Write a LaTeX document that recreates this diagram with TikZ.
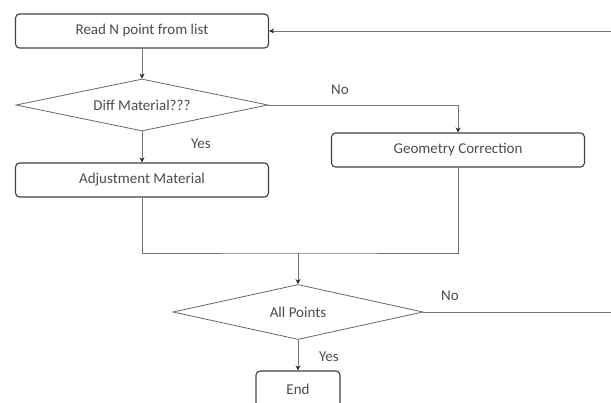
\documentclass[tikz,border=0pt]{standalone}
\usepackage{fontspec}
\setmainfont{Carlito}
\usetikzlibrary{shapes.geometric, arrows.meta}

\begin{document}
\begin{tikzpicture}[>={Stealth[length=5pt, width=5pt, black!85]}, x=1pt, y=-1pt, font=\fontsize{15}{17}\selectfont]
            \tikzset{block/.style = {draw=black!75, line width=1.1pt, rounded corners=4pt, minimum width=253pt, minimum height=34pt, text=black!70}}
            \tikzset{decision/.style = {diamond, aspect=4.8, inner sep=1pt, draw=black!60, line width=0.8pt, minimum width=252pt, minimum height=52pt, text=black!70}}
            \tikzset{link/.style = {draw=black!55, line width=0.8pt}}
            \tikzset{answer/.style = {text=black!70}}

            \useasboundingbox (0,0) rectangle (611,403);

            \node[block] (read) at (142,31) {Read N point from list};
            \node[decision] (diff) at (142,105) {Diff Material???};
            \node[block] (adjust) at (142,180) {Adjustment Material};
            \node[block] (geom) at (458,150) {Geometry Correction};
            \node[decision, minimum width=250pt, minimum height=55pt] (all) at (298,312) {All Points};
            \node[block, minimum width=84pt, minimum height=36pt] (end) at (298,389) {End};

            \coordinate (merge) at (298,253);
            \coordinate (back) at (620,312);

            \node[answer] (no1) at (340,90) {No};
            \node[answer] (yes1) at (201,144) {Yes};
            \node[answer] (no2) at (450,296) {No};
            \node[answer] (yes2) at (329,357) {Yes};

            \draw[link, ->] (read) -- (diff);
            \draw[link, ->] (diff) -- (adjust);
            \draw[link, ->] (diff.east) -| (geom.north);
            \draw[link] (adjust.south) |- (merge) -| (geom.south);
            \draw[link, ->] (merge) -- (all);
            \draw[link, ->] (all) -- (end);
            \draw[link, ->] (all.east) -- (back) |- (read.east);
        \end{tikzpicture}
\end{document}
